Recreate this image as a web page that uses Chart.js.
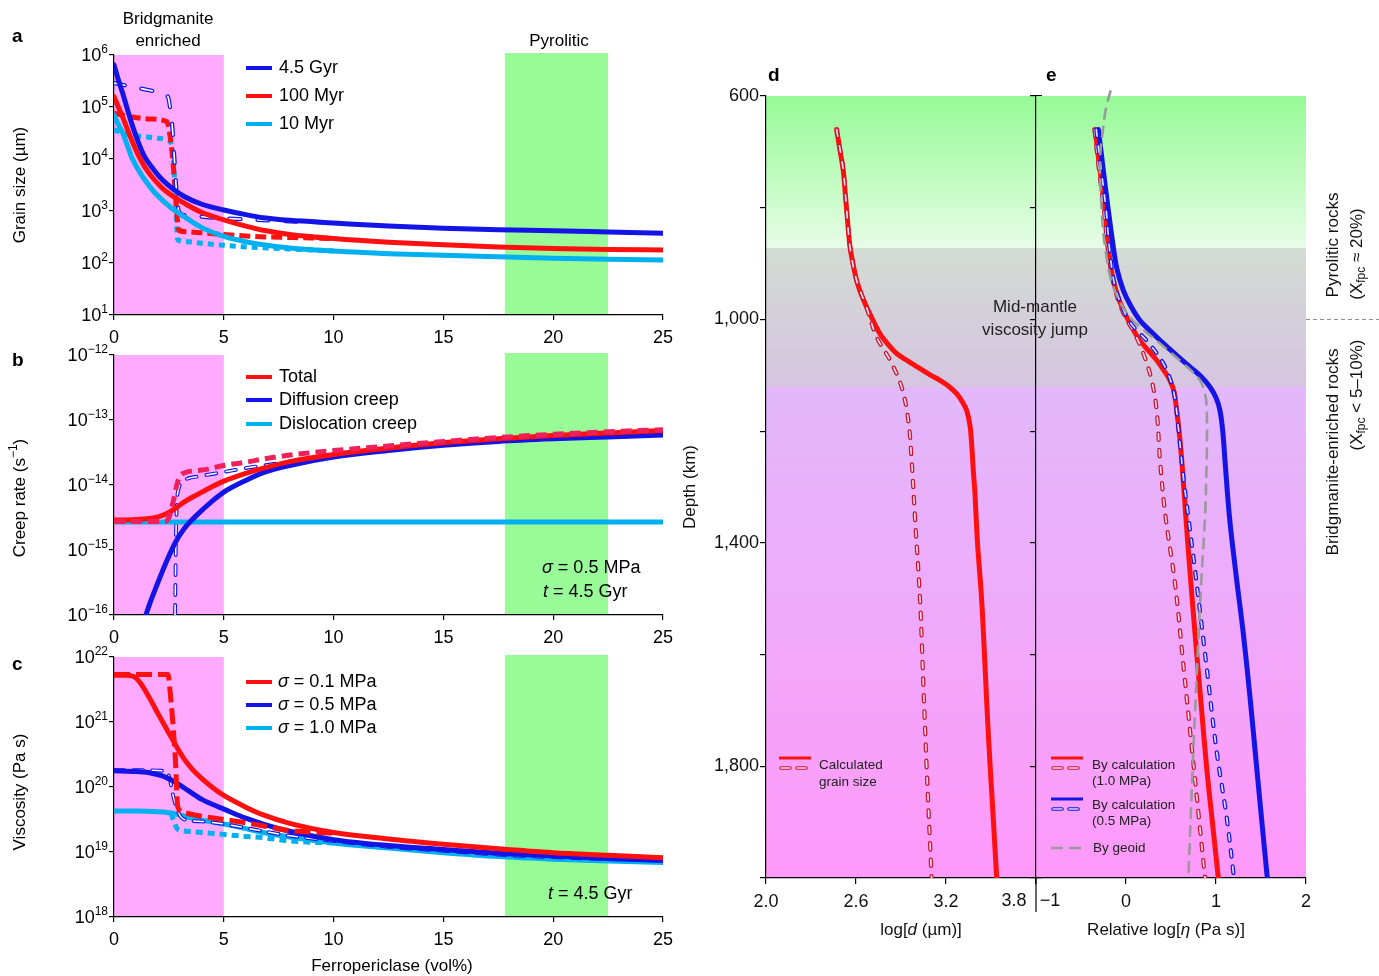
<!DOCTYPE html>
<html>
<head>
<meta charset="utf-8">
<script src="https://cdn.jsdelivr.net/npm/chart.js@4.4.0/dist/chart.umd.min.js"></script>
<style>
  body { margin: 0; background: #fff; }
  #wrap { position: relative; width: 1379px; height: 976px; }
  #wrap canvas { position: absolute; left: 0; top: 0; }
</style>
</head>
<body>
<div id="wrap">
  <canvas id="chartD" width="1379" height="976"></canvas>
  <canvas id="chartE" width="1379" height="976"></canvas>
  <canvas id="chartA" width="1379" height="976"></canvas>
  <canvas id="chartB" width="1379" height="976"></canvas>
  <canvas id="chartC" width="1379" height="976"></canvas>
</div>
<script>
// ---------- data ----------
// panel a: grain size, log10(um) vs ferropericlase vol%
const aX        = [0, 0.2, 0.4, 0.6, 0.8, 1.1, 1.4, 1.8, 2.2, 2.7, 3.2, 4, 5, 6, 6.8, 8, 10, 12.5, 15, 17.5, 20, 22.5, 25];
const aGrain45  = [5.81, 5.52, 5.26, 4.97, 4.69, 4.33, 4.04, 3.8, 3.6, 3.42, 3.28, 3.13, 3.02, 2.93, 2.87, 2.82, 2.77, 2.71, 2.67, 2.64, 2.62, 2.595, 2.57];
const aGrain100 = [5.2, 5.0, 4.8, 4.58, 4.37, 4.08, 3.85, 3.62, 3.44, 3.28, 3.15, 2.97, 2.83, 2.71, 2.63, 2.55, 2.47, 2.4, 2.35, 2.31, 2.28, 2.26, 2.25];
const aGrain10  = [4.85, 4.66, 4.5, 4.27, 4.04, 3.8, 3.6, 3.38, 3.21, 3.03, 2.89, 2.68, 2.51, 2.41, 2.35, 2.29, 2.23, 2.18, 2.15, 2.12, 2.09, 2.07, 2.06];
const aXd45     = [0, 0.7, 1.4, 2.0, 2.45, 2.55, 2.65, 2.75, 2.85, 2.95, 3.2, 4, 5, 6, 7, 8, 9, 10];
const aGrainD45 = [5.46, 5.4, 5.34, 5.29, 5.2, 5.0, 4.65, 4.0, 3.35, 3.0, 2.92, 2.89, 2.86, 2.84, 2.82, 2.8, 2.79, 2.78];
const aXd100     = [0, 0.8, 1.6, 2.4, 2.55, 2.65, 2.75, 2.85, 2.95, 3.3, 4, 5, 6, 7, 8, 9, 10];
const aGrainD100 = [4.88, 4.81, 4.77, 4.72, 4.45, 4.1, 3.6, 3.0, 2.63, 2.6, 2.58, 2.55, 2.52, 2.5, 2.49, 2.48, 2.47];
const aXd10     = [0, 0.8, 1.6, 2.4, 2.6, 2.7, 2.8, 2.9, 3.3, 4, 5, 6, 7, 8, 9, 10];
const aGrainD10 = [4.56, 4.46, 4.42, 4.37, 4.3, 4.0, 3.3, 2.45, 2.41, 2.38, 2.34, 2.31, 2.29, 2.27, 2.25, 2.23];

// panel b: creep rate, log10(1/s)
const bX       = [0, 0.5, 1, 1.5, 2, 2.4, 2.8, 3.2, 3.6, 4, 4.5, 5, 6, 6.8, 8, 10, 12.5, 15, 17.5, 20, 22.5, 25];
const bTotal   = [-14.54, -14.54, -14.53, -14.52, -14.49, -14.44, -14.36, -14.26, -14.18, -14.11, -14.02, -13.94, -13.82, -13.74, -13.64, -13.53, -13.43, -13.35, -13.29, -13.24, -13.2, -13.16];
const bXdiff   = [1.45, 1.7, 2.0, 2.4, 2.8, 3.2, 3.6, 4, 4.5, 5, 6, 6.8, 8, 10, 12.5, 15, 17.5, 20, 22.5, 25];
const bDiff    = [-16, -15.76, -15.5, -15.17, -14.88, -14.67, -14.52, -14.39, -14.24, -14.11, -13.93, -13.81, -13.7, -13.57, -13.47, -13.39, -13.33, -13.29, -13.26, -13.23];
const bXdiffD  = [2.78, 2.8, 2.82, 2.86, 2.95, 3.2, 4, 5, 6, 6.8, 8, 10];
const bDiffD   = [-16, -15.4, -14.8, -14.3, -14.05, -13.93, -13.86, -13.8, -13.74, -13.7, -13.64, -13.56];
const bXtotD   = [0, 1, 2, 2.3, 2.5, 2.7, 2.9, 3.1, 4, 5, 6, 6.8, 8, 10, 12.5, 15, 17.5, 20, 22.5, 25];
const bTotD    = [-14.56, -14.56, -14.56, -14.56, -14.5, -14.25, -13.95, -13.83, -13.77, -13.7, -13.65, -13.6, -13.54, -13.47, -13.4, -13.33, -13.27, -13.22, -13.18, -13.15];
const bXdisl   = [0, 25];
const bDisl    = [-14.57, -14.57];

// panel c: viscosity, log10(Pa s)
const cX01     = [0, 0.5, 0.9, 1.2, 1.6, 2, 2.4, 2.8, 3.2, 3.6, 4, 4.5, 5, 6, 6.8, 8, 10, 12.5, 15, 17.5, 20, 22.5, 25];
const cVisc01  = [21.72, 21.72, 21.7, 21.6, 21.38, 21.13, 20.89, 20.65, 20.43, 20.26, 20.13, 19.99, 19.87, 19.69, 19.57, 19.44, 19.3, 19.2, 19.12, 19.05, 18.99, 18.95, 18.91];
const cX05     = [0, 0.8, 1.6, 2.2, 2.8, 3.4, 4, 4.5, 5, 6, 6.8, 8, 10, 12.5, 15, 17.5, 20, 22.5, 25];
const cVisc05  = [20.25, 20.24, 20.22, 20.17, 20.07, 19.94, 19.81, 19.73, 19.66, 19.52, 19.43, 19.32, 19.19, 19.1, 19.04, 18.98, 18.94, 18.9, 18.87];
const cX10     = [0, 1, 2, 2.6, 3.2, 4, 5, 6, 6.8, 8, 10, 12.5, 15, 17.5, 20, 22.5, 25];
const cVisc10  = [19.63, 19.63, 19.62, 19.6, 19.55, 19.49, 19.43, 19.36, 19.3, 19.23, 19.14, 19.06, 18.99, 18.93, 18.89, 18.86, 18.84];
const cXd01    = [0, 1, 2, 2.45, 2.6, 2.7, 2.8, 2.9, 3.2, 4, 5, 6, 6.8, 8, 10];
const cViscD01 = [21.73, 21.73, 21.73, 21.73, 21.3, 20.9, 20.4, 19.7, 19.6, 19.55, 19.5, 19.45, 19.4, 19.33, 19.29];
const cXd05    = [0, 1, 2.2, 2.5, 2.7, 2.9, 3.2, 4, 5, 6, 6.8, 8, 10, 12.5, 15, 17.5, 20, 22.5, 25];
const cViscD05 = [20.26, 20.26, 20.25, 20.17, 19.86, 19.63, 19.5, 19.47, 19.43, 19.37, 19.32, 19.25, 19.17, 19.08, 19.02, 18.96, 18.92, 18.89, 18.87];
const cXd10    = [2.6, 2.75, 2.9, 3.3, 4, 5, 6, 6.8, 8, 9, 10];
const cViscD10 = [19.6, 19.45, 19.35, 19.32, 19.3, 19.27, 19.24, 19.22, 19.17, 19.15, 19.14];

// panel d: log grain size vs depth (km)
const dDepth  = [660, 700, 733, 770, 805, 840, 870, 900, 930, 955, 978, 1002, 1026, 1045, 1061, 1075, 1088, 1100, 1109, 1120, 1133, 1148, 1163, 1190, 1223, 1270, 1312, 1400, 1503, 1620, 1742, 1870, 2000];
const dGrain  = [2.471, 2.495, 2.515, 2.527, 2.538, 2.549, 2.56, 2.58, 2.604, 2.635, 2.671, 2.714, 2.76, 2.815, 2.871, 2.95, 3.027, 3.1, 3.16, 3.22, 3.271, 3.31, 3.338, 3.36, 3.371, 3.382, 3.393, 3.41, 3.438, 3.46, 3.482, 3.51, 3.538];
const dDepthD = [660, 733, 805, 870, 930, 978, 1032, 1073, 1121, 1181, 1253, 1354, 1503, 1653, 1802, 2000];
const dGrainD = [2.471, 2.515, 2.538, 2.56, 2.604, 2.67, 2.738, 2.827, 2.904, 2.949, 2.971, 2.993, 3.027, 3.049, 3.071, 3.104];

// panel e: relative log viscosity vs depth (km)
const eDepthR  = [660, 733, 805, 870, 910, 942, 970, 996, 1018, 1038, 1056, 1073, 1091, 1109, 1130, 1163, 1200, 1253, 1354, 1460, 1563, 1680, 1802, 1900, 2000];
const eRed     = [-0.344, -0.289, -0.233, -0.196, -0.165, -0.122, -0.065, 0.008, 0.08, 0.156, 0.25, 0.341, 0.42, 0.489, 0.535, 0.563, 0.59, 0.62, 0.665, 0.715, 0.767, 0.83, 0.896, 0.96, 1.026];
const eDepthRD = [660, 733, 805, 870, 942, 996, 1020, 1061, 1109, 1163, 1253, 1354, 1473, 1623, 1773, 1892, 2000];
const eRedD    = [-0.35, -0.3, -0.245, -0.205, -0.13, -0.01, 0.081, 0.193, 0.285, 0.341, 0.378, 0.44, 0.545, 0.64, 0.735, 0.81, 0.878];
const eDepthB  = [660, 733, 805, 870, 910, 948, 975, 1002, 1022, 1043, 1064, 1085, 1103, 1121, 1140, 1163, 1200, 1253, 1354, 1460, 1563, 1680, 1802, 1900, 2000];
const eBlue    = [-0.307, -0.252, -0.196, -0.141, -0.1, -0.03, 0.05, 0.156, 0.28, 0.415, 0.56, 0.711, 0.84, 0.933, 1.0, 1.044, 1.075, 1.1, 1.15, 1.225, 1.304, 1.38, 1.452, 1.51, 1.57];
const eDepthBD = [660, 733, 805, 870, 942, 996, 1018, 1038, 1079, 1127, 1193, 1282, 1354, 1473, 1623, 1773, 1892, 2000];
const eBlueD   = [-0.33, -0.275, -0.22, -0.185, -0.12, 0.01, 0.11, 0.23, 0.415, 0.526, 0.581, 0.637, 0.693, 0.785, 0.896, 1.007, 1.119, 1.2];
const eDepthG  = [590, 620, 655, 715, 805, 870, 942, 996, 1038, 1079, 1109, 1135, 1157, 1200, 1253, 1354, 1473, 1623, 1802, 2000];
const eGeoid   = [-0.17, -0.22, -0.252, -0.289, -0.27, -0.233, -0.141, 0.044, 0.341, 0.637, 0.822, 0.88, 0.896, 0.9, 0.896, 0.878, 0.835, 0.79, 0.741, 0.693];

// ticks, bands, zones
const fpTicks = [0, 5, 10, 15, 20, 25];
const aPows = [1, 2, 3, 4, 5, 6];
const bPows = [-16, -15, -14, -13, -12];
const cPows = [18, 19, 20, 21, 22];
const dXTicks = [2.0, 2.6, 3.2, 3.8];
const eXTicks = [-1, 0, 1, 2];
const depthTicks = [600, 800, 1000, 1200, 1400, 1600, 1800, 2000];
const depthLabelled = [600, 1000, 1400, 1800];
const bandBridg = [0, 5];
const bandPyro = [17.8, 22.5];
const zoneDepths = [600, 872, 1121, 2000];

// ---------- layout & style ----------
const W = 1379, H = 976;
const F = "'Liberation Sans', Arial, Helvetica, sans-serif";
const A = {l: 114, r: 663, t: 55, b: 315};
const B = {l: 114, r: 663, t: 355, b: 615};
const C = {l: 114, r: 663, t: 657, b: 917};
const D = {l: 766, r: 1036, t: 96, b: 878};
const E = {l: 1036, r: 1306, t: 96, b: 878};
const XH = 40, YW = 70, THIN = 10;   // fixed axis box sizes
const BLUE = '#1414e6', RED = '#ff1010', CYAN = '#00b0f0', PINKRED = '#f0205a', DRED = '#c81432', GRAY = '#9a9a9a';
const INNER = 'rgba(255,236,250,0.9)';
const LW = 5;

Chart.defaults.font.family = F;
Chart.defaults.color = '#000';

function pts(xs, ys, log) {
  return xs.map((x, i) => ({x: x, y: log ? Math.pow(10, ys[i]) : ys[i]}));
}
function ptsV(depth, xs) {
  return depth.map((d, i) => ({x: xs[i], y: d}));
}
function line(data, color, width, extra) {
  return Object.assign({
    data: data, borderColor: color, backgroundColor: color, borderWidth: width,
    pointRadius: 0, fill: false, cubicInterpolationMode: 'monotone',
    borderCapStyle: 'round', borderJoinStyle: 'round'
  }, extra || {});
}
function hollow(data, color, inner, dash, w, extra) {
  return [line(data, color, w, Object.assign({borderDash: dash}, extra || {})),
          line(data, inner, w * 0.4, Object.assign({borderDash: dash}, extra || {}))];
}
// list is bottom-first; lower order is drawn on top
function stack(list) {
  const out = [].concat(...list);
  out.forEach((d, i) => { d.order = out.length - i; });
  return out;
}

function tickStyle(len) {
  return {
    grid: {drawOnChartArea: false, drawTicks: true, tickLength: len, color: '#000', lineWidth: 1.2},
    border: {display: true, color: '#000', width: 1.2}
  };
}
function fpAxis() {
  return Object.assign({
    type: 'linear', position: 'bottom', min: 0, max: 25,
    afterBuildTicks: s => { s.ticks = fpTicks.map(v => ({value: v})); },
    ticks: {font: {size: 18}, color: '#000', padding: 7, maxRotation: 0, autoSkip: false},
    afterFit: s => { s.height = XH; }
  }, tickStyle(5));
}
function logAxis(pows) {
  return Object.assign({
    type: 'logarithmic', position: 'left',
    min: Number('1e' + pows[0]), max: Number('1e' + pows[pows.length - 1]),
    afterBuildTicks: s => { s.ticks = pows.map(p => ({value: Number('1e' + p)})); },
    ticks: {display: false},
    afterFit: s => { s.width = THIN; }
  }, tickStyle(5));
}
function depthAxis(pos, labels) {
  return Object.assign({
    type: 'linear', position: pos, reverse: true, min: 600, max: 2000,
    afterBuildTicks: s => { s.ticks = depthTicks.map(v => ({value: v})); },
    ticks: {display: labels, font: {size: 18}, color: '#111', padding: 1, autoSkip: false,
      callback: v => depthLabelled.includes(v) ? v.toLocaleString('en-US') : ''},
    afterFit: s => { s.width = labels ? YW : THIN; }
  }, tickStyle(6));
}
function valAxis(min, max, list, fmt) {
  return Object.assign({
    type: 'linear', position: 'bottom', min: min, max: max,
    afterBuildTicks: s => { s.ticks = list.map(v => ({value: v})); },
    ticks: {font: {size: 18}, color: '#111', padding: 7, maxRotation: 0, autoSkip: false, callback: fmt},
    afterFit: s => { s.height = XH; }
  }, tickStyle(6));
}

// rich text: parts are strings or {t, i: italic, s: superscript, b: subscript}
function txt(ctx, parts, x, y, o) {
  o = o || {};
  const size = o.size || 18, align = o.align || 'left';
  if (typeof parts === 'string') parts = [parts];
  parts = parts.map(p => typeof p === 'string' ? {t: p} : p);
  const fontOf = p => (p.i ? 'italic ' : '') + (o.weight ? o.weight + ' ' : '') +
    ((p.s || p.b) ? Math.round(size * 0.68) : size) + 'px ' + F;
  ctx.save();
  ctx.translate(x, y);
  if (o.rot) ctx.rotate(o.rot);
  ctx.fillStyle = o.color || '#000';
  ctx.textBaseline = 'middle';
  ctx.textAlign = 'left';
  let w = 0;
  parts.forEach(p => { ctx.font = fontOf(p); w += ctx.measureText(p.t).width; });
  let cx = align === 'center' ? -w / 2 : align === 'right' ? -w : 0;
  parts.forEach(p => {
    ctx.font = fontOf(p);
    const dy = p.s ? -size * 0.36 : p.b ? size * 0.3 : 0;
    ctx.fillText(p.t, cx, dy);
    cx += ctx.measureText(p.t).width;
  });
  ctx.restore();
}
function powLabels(ctx, scale, pows) {
  pows.forEach(p => {
    const y = scale.getPixelForValue(Number('1e' + p));
    const e = p < 0 ? '\u2212' + (-p) : String(p);
    txt(ctx, ['10', {t: e, s: true}], scale.right - 6, y + 1.5, {align: 'right', size: 18});
  });
}
function legLine(ctx, x0, x1, y, color, w, dash) {
  ctx.save();
  ctx.strokeStyle = color; ctx.lineWidth = w; ctx.lineCap = 'butt';
  ctx.setLineDash(dash || []);
  ctx.beginPath(); ctx.moveTo(x0, y); ctx.lineTo(x1, y); ctx.stroke();
  ctx.restore();
}
function legHollow(ctx, x0, x1, y, color) {
  ctx.save();
  ctx.lineCap = 'round';
  ctx.setLineDash([9, 7]);
  ctx.strokeStyle = color; ctx.lineWidth = 3.6;
  ctx.beginPath(); ctx.moveTo(x0 + 2, y); ctx.lineTo(x1, y); ctx.stroke();
  ctx.strokeStyle = INNER; ctx.lineWidth = 1.4;
  ctx.beginPath(); ctx.moveTo(x0 + 2, y); ctx.lineTo(x1, y); ctx.stroke();
  ctx.restore();
}
function drawBands(chart) {
  const ctx = chart.ctx, x = chart.scales.x, a = chart.chartArea;
  ctx.save();
  ctx.fillStyle = '#ffaaff';
  const p0 = x.getPixelForValue(bandBridg[0]), p1 = x.getPixelForValue(bandBridg[1]);
  ctx.fillRect(p0, a.top, p1 - p0, a.bottom - a.top);
  ctx.fillStyle = '#98fb98';
  const g0 = x.getPixelForValue(bandPyro[0]), g1 = x.getPixelForValue(bandPyro[1]);
  ctx.fillRect(g0, a.top - 2, g1 - g0, a.bottom - a.top + 2);
  ctx.restore();
}
function drawZones(chart) {
  const ctx = chart.ctx, y = chart.scales.y, a = chart.chartArea;
  const cols = [['#96fb96', '#e6fde6'], ['#d3dbd3', '#d5c5e1'], ['#e2b8fb', '#ff99fa']];
  ctx.save();
  for (let i = 0; i < cols.length; i++) {
    const y0 = y.getPixelForValue(zoneDepths[i]), y1 = y.getPixelForValue(zoneDepths[i + 1]);
    const g = ctx.createLinearGradient(0, y0, 0, y1);
    g.addColorStop(0, cols[i][0]); g.addColorStop(1, cols[i][1]);
    ctx.fillStyle = g;
    ctx.fillRect(a.left, y0, a.right - a.left, y1 - y0);
  }
  ctx.restore();
}

// sz: widths of the left / right axis boxes
function makeChart(id, box, datasets, scales, plugin, extra, sz) {
  return new Chart(document.getElementById(id), {
    type: 'line',
    data: {datasets: datasets},
    options: Object.assign({
      responsive: false, animation: false, events: [], devicePixelRatio: 1,
      layout: {padding: {left: box.l - sz.left, right: W - box.r - sz.right, top: box.t, bottom: H - box.b - XH}},
      plugins: {legend: {display: false}, tooltip: {enabled: false}},
      scales: scales
    }, extra || {}),
    plugins: [plugin]
  });
}
const rot = -Math.PI / 2;
const logSides = {left: THIN, right: 0};
const smooth = {cubicInterpolationMode: 'default', tension: 0.35};

// ---------- panel a ----------
makeChart('chartA', A, stack([
  line(pts(aXd10, aGrainD10, true), CYAN, LW, {borderDash: [6, 5], borderCapStyle: 'butt'}),
  line(pts(aXd100, aGrainD100, true), RED, LW, {borderDash: [11, 5], borderCapStyle: 'butt'}),
  hollow(pts(aXd45, aGrainD45, true), BLUE, '#fff', [11, 17], 4.2),
  line(pts(aX, aGrain10, true), CYAN, LW),
  line(pts(aX, aGrain100, true), RED, LW),
  line(pts(aX, aGrain45, true), BLUE, LW)
]), {x: fpAxis(), y: logAxis(aPows)}, {
  id: 'panelA',
  beforeDraw: drawBands,
  afterDraw(chart) {
    const ctx = chart.ctx;
    powLabels(ctx, chart.scales.y, aPows);
    txt(ctx, 'a', 12, 37, {size: 19, weight: 'bold'});
    txt(ctx, 'Bridgmanite', 168, 19, {size: 17, align: 'center'});
    txt(ctx, 'enriched', 168, 41, {size: 17, align: 'center'});
    txt(ctx, 'Pyrolitic', 559, 41, {size: 17, align: 'center'});
    txt(ctx, 'Grain size (\u00b5m)', 20, 185, {size: 17, align: 'center', rot: rot});
    [['4.5 Gyr', BLUE, 68], ['100 Myr', RED, 96], ['10 Myr', CYAN, 124]].forEach(l => {
      legLine(ctx, 246, 272, l[2], l[1], 4);
      txt(ctx, l[0], 279, l[2], {size: 18});
    });
  }
}, null, logSides);

// ---------- panel b ----------
makeChart('chartB', B, stack([
  hollow(pts(bXdiffD, bDiffD, true), BLUE, '#fff', [10, 10], 3.8),
  line(pts(bXdisl, bDisl, true), CYAN, LW),
  line(pts(bXdiff, bDiff, true), BLUE, LW),
  line(pts(bX, bTotal, true), RED, LW),
  line(pts(bXtotD, bTotD, true), PINKRED, LW, {borderDash: [11, 6], borderCapStyle: 'butt'})
]), {x: fpAxis(), y: logAxis(bPows)}, {
  id: 'panelB',
  beforeDraw: drawBands,
  afterDraw(chart) {
    const ctx = chart.ctx;
    powLabels(ctx, chart.scales.y, bPows);
    txt(ctx, 'b', 12, 361, {size: 19, weight: 'bold'});
    txt(ctx, ['Creep rate (s', {t: '\u22121', s: true}, ')'], 20, 498, {size: 17, align: 'center', rot: rot});
    [['Total', RED, 377], ['Diffusion creep', BLUE, 400], ['Dislocation creep', CYAN, 424]].forEach(l => {
      legLine(ctx, 246, 272, l[2], l[1], 4);
      txt(ctx, l[0], 279, l[2], {size: 18});
    });
    txt(ctx, [{t: '\u03c3', i: true}, ' = 0.5 MPa'], 542, 568, {size: 18});
    txt(ctx, [{t: 't', i: true}, ' = 4.5 Gyr'], 543, 592, {size: 18});
  }
}, null, logSides);

// ---------- panel c ----------
makeChart('chartC', C, stack([
  line(pts(cXd10, cViscD10, true), CYAN, LW, {borderDash: [7, 5], borderCapStyle: 'butt'}),
  line(pts(cX10, cVisc10, true), CYAN, LW),
  hollow(pts(cXd05, cViscD05, true), BLUE, '#fff', [10, 9], 3.8),
  line(pts(cX05, cVisc05, true), BLUE, LW),
  line(pts(cXd01, cViscD01, true), RED, LW, {borderDash: [16, 6], borderCapStyle: 'butt'}),
  line(pts(cX01, cVisc01, true), RED, LW)
]), {x: fpAxis(), y: logAxis(cPows)}, {
  id: 'panelC',
  beforeDraw: drawBands,
  afterDraw(chart) {
    const ctx = chart.ctx;
    powLabels(ctx, chart.scales.y, cPows);
    txt(ctx, 'c', 12, 665, {size: 19, weight: 'bold'});
    txt(ctx, 'Viscosity (Pa s)', 20, 792, {size: 17, align: 'center', rot: rot});
    txt(ctx, 'Ferropericlase (vol%)', 392, 966, {size: 17, align: 'center'});
    [['0.1', RED, 682], ['0.5', BLUE, 705], ['1.0', CYAN, 728]].forEach(l => {
      legLine(ctx, 246, 272, l[2], l[1], 4);
      txt(ctx, [{t: '\u03c3', i: true}, ' = ' + l[0] + ' MPa'], 278, l[2], {size: 18});
    });
    txt(ctx, [{t: 't', i: true}, ' = 4.5 Gyr'], 548, 894, {size: 18});
  }
}, null, logSides);

// ---------- panel d ----------
makeChart('chartD', D, stack([
  line(ptsV(dDepth, dGrain), RED, LW, smooth),
  hollow(ptsV(dDepthD, dGrainD), DRED, INNER, [6.5, 10], 4.2, smooth)
]), {
  x: valAxis(2.0, 3.8, dXTicks, v => v === 3.8 ? '' : v.toFixed(1)),
  y: depthAxis('left', true),
  y2: depthAxis('right', false)
}, {
  id: 'panelD',
  beforeDraw: drawZones,
  afterDraw(chart) {
    const ctx = chart.ctx, x = chart.scales.x;
    txt(ctx, 'd', 768, 76, {size: 19, weight: 'bold'});
    txt(ctx, 'Depth (km)', 690, 487, {size: 17, align: 'center', rot: rot, color: '#111'});
    txt(ctx, '3.8', x.getPixelForValue(3.8) - 22, 901, {size: 18, align: 'center', color: '#111'});
    txt(ctx, ['log[', {t: 'd', i: true}, ' (\u00b5m)]'], 921, 930, {size: 17, align: 'center', color: '#111'});
    legLine(ctx, 779, 811, 758, RED, 3);
    legHollow(ctx, 779, 811, 768, DRED);
    txt(ctx, 'Calculated', 819, 765, {size: 13.5, color: '#222'});
    txt(ctx, 'grain size', 819, 782, {size: 13.5, color: '#222'});
  }
}, {indexAxis: 'y'}, {left: YW, right: THIN});

// ---------- panel e ----------
makeChart('chartE', E, stack([
  line(ptsV(eDepthR, eRed), RED, LW, smooth),
  line(ptsV(eDepthB, eBlue), BLUE, LW, smooth),
  hollow(ptsV(eDepthRD, eRedD), DRED, INNER, [6.5, 10], 4.2, smooth),
  hollow(ptsV(eDepthBD, eBlueD), BLUE, INNER, [6.5, 10], 4.2, smooth),
  line(ptsV(eDepthG, eGeoid), GRAY, 2.6, Object.assign({borderDash: [12, 6], borderCapStyle: 'butt',
    clip: {left: 0, top: false, right: 0, bottom: 0}}, smooth))
]), {
  x: valAxis(-1, 2, eXTicks, v => v === -1 ? '' : String(v)),
  y: depthAxis('left', false)
}, {
  id: 'panelE',
  beforeDraw: drawZones,
  afterDraw(chart) {
    const ctx = chart.ctx, x = chart.scales.x, y = chart.scales.y, a = chart.chartArea;
    const x0 = x.getPixelForValue(-1);
    ctx.save();
    ctx.strokeStyle = '#000'; ctx.lineWidth = 1.2;
    ctx.beginPath(); ctx.moveTo(x0, a.bottom); ctx.lineTo(x0, 912); ctx.stroke();
    ctx.strokeStyle = '#888'; ctx.lineWidth = 1; ctx.setLineDash([4, 3]);
    const yj = y.getPixelForValue(1000);
    ctx.beginPath(); ctx.moveTo(a.right, yj); ctx.lineTo(W, yj); ctx.stroke();
    ctx.restore();
    txt(ctx, 'e', 1046, 76, {size: 19, weight: 'bold'});
    txt(ctx, '\u22121', x0 + 14, 901, {size: 18, align: 'center', color: '#111'});
    txt(ctx, ['Relative log[', {t: '\u03b7', i: true}, ' (Pa s)]'], 1166, 930, {size: 17, align: 'center', color: '#111'});
    txt(ctx, 'Mid-mantle', 1035, 307, {size: 17, align: 'center', color: '#222'});
    txt(ctx, 'viscosity jump', 1035, 330, {size: 17, align: 'center', color: '#222'});
    legLine(ctx, 1051, 1083, 758, RED, 3);
    legHollow(ctx, 1051, 1083, 768, DRED);
    txt(ctx, 'By calculation', 1092, 765, {size: 13.5, color: '#222'});
    txt(ctx, '(1.0 MPa)', 1092, 781, {size: 13.5, color: '#222'});
    legLine(ctx, 1051, 1083, 799, BLUE, 3);
    legHollow(ctx, 1051, 1083, 809, BLUE);
    txt(ctx, 'By calculation', 1092, 805, {size: 13.5, color: '#222'});
    txt(ctx, '(0.5 MPa)', 1092, 821, {size: 13.5, color: '#222'});
    legLine(ctx, 1051, 1087, 848, GRAY, 2.6, [12, 6]);
    txt(ctx, 'By geoid', 1093, 848, {size: 13.5, color: '#222'});
    txt(ctx, 'Pyrolitic rocks', 1333, 245, {size: 17, align: 'center', rot: rot, color: '#111'});
    txt(ctx, ['(X', {t: 'fpc', b: true}, ' \u2248 20%)'], 1357, 254, {size: 17, align: 'center', rot: rot, color: '#111'});
    txt(ctx, 'Bridgmanite-enriched rocks', 1333, 452, {size: 17, align: 'center', rot: rot, color: '#111'});
    txt(ctx, ['(X', {t: 'fpc', b: true}, ' < 5\u201310%)'], 1357, 395, {size: 17, align: 'center', rot: rot, color: '#111'});
  }
}, {indexAxis: 'y'}, {left: THIN, right: 0});
</script>
</body>
</html>
